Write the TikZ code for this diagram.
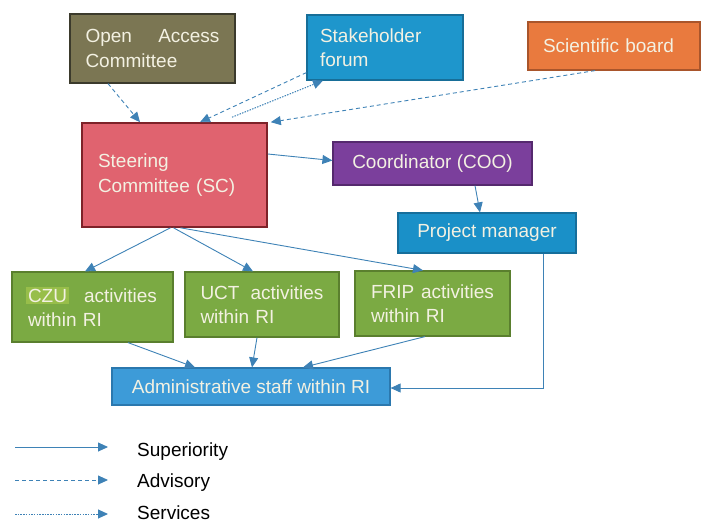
\documentclass[tikz,border=0pt]{standalone}
\usepackage{fontspec}
\setmainfont{Liberation Sans}
\usepackage{tikz}
\usetikzlibrary{arrows.meta}

\definecolor{oacfill}{HTML}{7B7653}
\definecolor{oacline}{HTML}{3B3A2C}
\definecolor{forumfill}{HTML}{1E96CC}
\definecolor{forumline}{HTML}{176E98}
\definecolor{boardfill}{HTML}{E97A3E}
\definecolor{boardline}{HTML}{A9552B}
\definecolor{scfill}{HTML}{E0636F}
\definecolor{scline}{HTML}{7E2229}
\definecolor{coofill}{HTML}{7B3F9C}
\definecolor{cooline}{HTML}{55296E}
\definecolor{pmfill}{HTML}{1A90C8}
\definecolor{pmline}{HTML}{166E9B}
\definecolor{actfill}{HTML}{7BAA43}
\definecolor{actline}{HTML}{5A7F2E}
\definecolor{czuglow}{HTML}{98BE4A}
\definecolor{adminfill}{HTML}{3D9BD8}
\definecolor{adminline}{HTML}{2B78AE}
\definecolor{boxtext}{HTML}{F3F1E2}
\definecolor{arrowblue}{HTML}{3E82B6}

\begin{document}
\begin{tikzpicture}[x=1pt, y=-1pt,
        >={Triangle[length=10pt, width=9pt]},
        orgbox/.style={draw, line width=1.2pt, text=boxtext, inner sep=0pt,
            font=\fontsize{19}{24.5}\selectfont},
        legendtext/.style={anchor=base west, inner sep=0pt, font=\fontsize{19}{24}\selectfont},
        suparrow/.style={->, arrowblue, line width=0.9pt},
        advarrow/.style={->, arrowblue, line width=0.9pt, dash pattern=on 4pt off 3pt},
        servarrow/.style={->, arrowblue, line width=1pt, dash pattern=on 1.5pt off 1.2pt}]
                \useasboundingbox (0, 0) rectangle (701, 522);

                % advisory bodies
                \node[orgbox, fill=oacfill, draw=oacline, minimum width=165pt, minimum height=69pt,
                    text width=134pt, align=left] (oac) at (152.5, 48.5) {Open\hspace{\fill}Access\\Committee};
                \node[orgbox, fill=forumfill, draw=forumline, minimum width=156pt, minimum height=65pt,
                    text width=130pt, align=left] (forum) at (385, 47.5) {Stakeholder\\forum};
                \node[orgbox, fill=boardfill, draw=boardline, minimum width=172pt, minimum height=48pt,
                    text width=142pt, align=left] (board) at (614, 46) {Scientific board};

                % management
                \node[orgbox, fill=scfill, draw=scline, line width=1.6pt, minimum width=185pt, minimum height=104pt,
                    text width=153pt, align=left] (sc) at (174.5, 175) {Steering\\Committee (SC)};
                \node[orgbox, fill=coofill, draw=cooline, minimum width=199pt, minimum height=43pt,
                    align=center] (coo) at (432.5, 163.5) {Coordinator (COO)};
                \node[orgbox, fill=pmfill, draw=pmline, minimum width=178pt, minimum height=40pt,
                    align=center] (pm) at (487, 233) {Project manager};

                % activities
                \node[orgbox, fill=actfill, draw=actline, minimum width=161pt, minimum height=70pt,
                    text width=129pt, align=left] (czu) at (92.5, 307)
                    {{\setlength{\fboxsep}{2pt}\hspace{-2pt}\colorbox{czuglow}{CZU}\hspace{-2pt}}\hspace{\fill}activities\\within RI};
                \node[orgbox, fill=actfill, draw=actline, minimum width=154pt, minimum height=65pt,
                    text width=123pt, align=left] (uct) at (262, 304.5) {UCT\hspace{\fill}activities\\within RI};
                \node[orgbox, fill=actfill, draw=actline, minimum width=155pt, minimum height=65pt,
                    text width=123pt, align=left] (frip) at (432.5, 303.5) {FRIP\hspace{\fill}activities\\within RI};
                \node[orgbox, fill=adminfill, draw=adminline, minimum width=278pt, minimum height=37pt,
                    align=center] (admin) at (251, 386.5) {Administrative staff within RI};

                % connectors
                \draw[advarrow] ([xshift=-44.5pt]oac.south) -- ([xshift=-34.5pt]sc.north);
                \draw[advarrow] ([yshift=8pt]forum.south west) -- ([xshift=25.5pt]sc.north);
                \draw[servarrow] ([xshift=57.5pt, yshift=5pt]sc.north) -- ([xshift=-62pt]forum.south);
                \draw[advarrow] ([xshift=-19pt]board.south) -- ([xshift=3pt]sc.north east);
                \draw[suparrow] ([yshift=21pt]sc.east) -- ([yshift=3pt]coo.west);
                \draw[suparrow] ([xshift=42.5pt]coo.south) -- ([xshift=-7pt]pm.north);
                \draw[suparrow] ([xshift=-4pt]sc.south) -- ([xshift=-7.5pt]czu.north);
                \draw[suparrow] ([xshift=-1pt]sc.south) -- ([xshift=-9pt]uct.north);
                \draw[suparrow] ([xshift=6pt]sc.south) -- ([xshift=-9.5pt]frip.north);
                \draw[suparrow] ([xshift=35.5pt]czu.south) -- ([xshift=-56pt]admin.north);
                \draw[suparrow] ([xshift=-5pt]uct.south) -- ([xshift=1pt]admin.north);
                \draw[suparrow] ([xshift=-7.5pt]frip.south) -- ([xshift=52pt]admin.north);
                \draw[suparrow] ([xshift=56pt]pm.south) |- ([yshift=-1.5pt]admin.east);

                % legend
                \node[legendtext] (supl) at (137, 456) {Superiority};
                \node[legendtext] (advl) at (137, 487) {Advisory};
                \node[legendtext] (servl) at (137, 519) {Services};
                \coordinate (supstart) at (15, 447);
                \coordinate (advstart) at (15, 480);
                \coordinate (servstart) at (15, 514);
                \draw[suparrow] (supstart) -- ++(93, 0);
                \draw[advarrow] (advstart) -- ++(93, 0);
                \draw[servarrow] (servstart) -- ++(93, 0);
            \end{tikzpicture}
\end{document}
